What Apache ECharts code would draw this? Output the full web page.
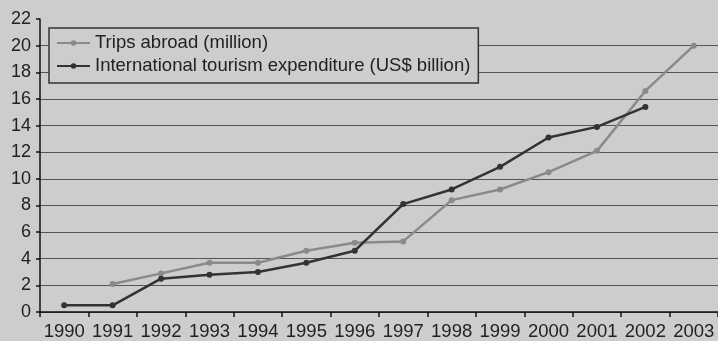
<!DOCTYPE html>
<html>
<head>
<meta charset="utf-8">
<script src="https://cdn.jsdelivr.net/npm/echarts@6/dist/echarts.min.js"></script>
<style>
  html, body { margin: 0; padding: 0; background: #cdcdcd; }
  #chart { width: 718px; height: 341px; }
</style>
</head>
<body>
<div id="chart"></div>
<script>
// Years on the horizontal axis
const years = ['1990', '1991', '1992', '1993', '1994', '1995', '1996',
               '1997', '1998', '1999', '2000', '2001', '2002', '2003'];

// Trips abroad, in millions (no figure for 1990)
const tripsAbroad = [null, 2.1, 2.9, 3.7, 3.7, 4.6, 5.2, 5.3, 8.4, 9.2, 10.5, 12.1, 16.6, 20.0];

// International tourism expenditure, US$ billion (no figure for 2003)
const tourismExpenditure = [0.5, 0.5, 2.5, 2.8, 3.0, 3.7, 4.6, 8.1, 9.2, 10.9, 13.1, 13.9, 15.4, null];

const seriesNames = ['Trips abroad (million)', 'International tourism expenditure (US$ billion)'];

const font = 'Liberation Sans, Arial, sans-serif';
const textColor = '#222';

// One colour per horizontal rule, 0..22; the rule at 22 is left out
const ruleColors = Array.from({ length: 12 }, (_, i) => (i === 11 ? 'rgba(0,0,0,0)' : '#555'));

const chart = echarts.init(document.getElementById('chart'), null, { renderer: 'canvas' });

chart.setOption({
  backgroundColor: '#cdcdcd',
  animation: false,
  grid: { left: 40, right: 0, top: 19, bottom: 28, containLabel: false },
  legend: {
    orient: 'vertical',
    left: 49,
    top: 28,
    padding: [5, 8, 7, 7],
    itemWidth: 33,
    itemHeight: 7,
    itemGap: 3,
    backgroundColor: '#cdcdcd',
    borderColor: '#333',
    borderWidth: 1.5,
    borderRadius: 0,
    textStyle: { fontFamily: font, fontSize: 18.5, color: textColor, lineHeight: 20 },
    data: seriesNames
  },
  xAxis: {
    type: 'category',
    data: years,
    boundaryGap: true,
    axisLine: { lineStyle: { color: '#111', width: 1.5 } },
    axisTick: { show: true, length: 5, lineStyle: { color: '#111', width: 1.5 } },
    axisLabel: { interval: 0, fontFamily: font, fontSize: 18.5, color: textColor, margin: 10 },
    splitLine: { show: false }
  },
  yAxis: {
    type: 'value',
    min: 0,
    max: 22,
    interval: 2,
    axisLine: { show: true, lineStyle: { color: '#111', width: 1.5 } },
    axisTick: { show: true, length: 4, lineStyle: { color: '#111', width: 1.5 } },
    axisLabel: { fontFamily: font, fontSize: 18, color: textColor, margin: 9 },
    splitLine: { show: true, lineStyle: { color: ruleColors, width: 1.2 } }
  },
  series: [
    {
      name: seriesNames[0],
      type: 'line',
      data: tripsAbroad,
      symbol: 'circle',
      symbolSize: 6,
      connectNulls: false,
      lineStyle: { color: '#8a8a8a', width: 2.5 },
      itemStyle: { color: '#8a8a8a' },
      z: 3
    },
    {
      name: seriesNames[1],
      type: 'line',
      data: tourismExpenditure,
      symbol: 'circle',
      symbolSize: 6,
      connectNulls: false,
      lineStyle: { color: '#333', width: 2.5 },
      itemStyle: { color: '#333' },
      z: 4
    }
  ]
});
</script>
</body>
</html>
